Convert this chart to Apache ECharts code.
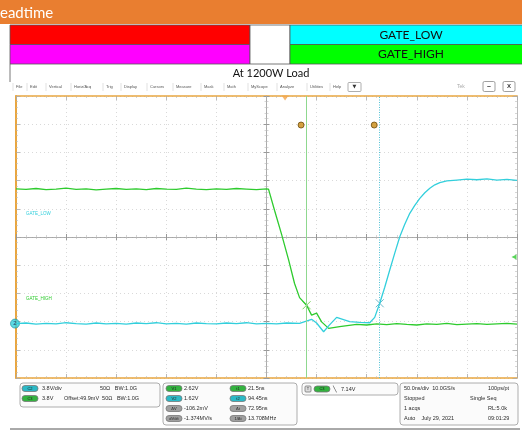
<!DOCTYPE html>
<html>
<head>
<meta charset="utf-8">
<style>
html, body { margin: 0; padding: 0; background: #fff; }
#scope { width: 522px; height: 430px; }
</style>
<script src="https://cdn.jsdelivr.net/npm/echarts@6/dist/echarts.min.js"></script>
</head>
<body>
<div id="scope"></div>
<script>
// time in ns from screen centre, amplitude in divisions
var gateHigh = [
    [-250, 1.71], [-240, 1.69], [-230, 1.72], [-220, 1.68], [-210, 1.70], [-200, 1.73],
    [-190, 1.69], [-180, 1.71], [-170, 1.67], [-160, 1.70], [-150, 1.72], [-140, 1.69],
    [-130, 1.71], [-120, 1.68], [-110, 1.72], [-100, 1.70], [-90, 1.69], [-80, 1.73],
    [-70, 1.70], [-60, 1.68], [-50, 1.71], [-40, 1.69], [-30, 1.72], [-20, 1.70],
    [-10, 1.68], [0, 1.71], [2, 1.70], [8, 0.95], [15, 0.10], [22, -0.80], [28, -1.65],
    [33, -2.15], [40, -2.42], [45, -2.77], [50, -2.70], [55, -3.01], [62, -3.24],
    [73, -3.18], [90, -3.10], [100, -3.12], [110, -3.08], [120, -3.11], [130, -3.07],
    [140, -3.10], [150, -3.12], [160, -3.08], [170, -3.10], [180, -3.06], [190, -3.11],
    [200, -3.09], [210, -3.07], [220, -3.10], [230, -3.08], [240, -3.06], [250, -3.09]
];
var gateLow = [
    [-250, -3.07], [-240, -3.05], [-230, -3.09], [-220, -3.06], [-210, -3.08], [-200, -3.04],
    [-190, -3.07], [-180, -3.09], [-170, -3.05], [-160, -3.08], [-150, -3.06], [-140, -3.09],
    [-130, -3.05], [-120, -3.07], [-110, -3.04], [-100, -3.08], [-90, -3.06], [-80, -3.09],
    [-70, -3.05], [-60, -3.07], [-50, -3.08], [-40, -3.05], [-30, -3.07], [-20, -3.04],
    [-10, -3.08], [0, -3.06], [10, -3.08], [20, -3.05], [33, -3.06], [45, -2.92],
    [50, -3.05], [57, -3.36], [62, -3.15], [70, -2.85], [83, -3.00], [93, -3.03],
    [103, -3.04], [108, -2.85], [113, -2.35], [118, -1.78], [123, -1.17], [128, -0.57],
    [133, 0.01], [138, 0.45], [143, 0.84], [148, 1.12], [153, 1.37], [158, 1.57],
    [163, 1.73], [168, 1.85], [173, 1.93], [180, 1.99], [190, 2.02], [200, 2.05],
    [210, 2.03], [220, 2.06], [230, 2.02], [240, 2.04], [250, 2.01]
];
var cursorTimes = [40, 113];
var cursorCrossings = [[40, -2.42], [113, -2.35]];
var cursorHandles = [[34.5, 3.97], [107.5, 3.97]];
var triggerPos = [18.5, 4.93];
var triggerLevel = [247, -0.71];
var ch2Marker = [-251, -3.07];

var menuItems = ['File', 'Edit', 'Vertical', 'Horiz/Acq', 'Trig', 'Display', 'Cursors', 'Measure',
    'Mask', 'Math', 'MyScope', 'Analyze', 'Utilities', 'Help'];
var menuX = [16, 30, 49, 74, 106, 124, 150, 176, 204, 227, 251, 280, 310, 333];

var vLabels = ['V1', 'V2', 'ΔV', 'dV/dt'];
var vValues = ['2.62V', '1.62V', '-106.2mV', '-1.374MV/s'];
var tLabels = ['t1', 't2', 'Δt', '1/Δt'];
var tValues = ['21.5ns', '94.45ns', '72.95ns', '13.708MHz'];
var acqLeft = ['50.0ns/div  10.0GS/s', 'Stopped', '1 acqs', 'Auto    July 29, 2021'];
var acqRight = ['100ps/pt', 'Single Seq', 'RL:5.0k', '09:01:29'];

var GREEN = '#2ecb2e';
var CYAN = '#33cfdc';
var ORANGE = '#e9a640';

var chart = echarts.init(document.getElementById('scope'));

function txt(x, y, s, opt) {
    opt = opt || {};
    return {
        type: 'text', x: x, y: y, silent: true,
        style: {
            text: s,
            fill: opt.fill || '#2a2a2a',
            font: opt.font || '5.5px "Liberation Sans"',
            align: opt.align || 'left', textAlign: opt.align || 'left',
            verticalAlign: 'middle', textVerticalAlign: 'middle'
        }
    };
}
function box(x, y, w, h, fill, stroke, r) {
    return {
        type: 'rect', silent: true,
        shape: { x: x, y: y, width: w, height: h, r: r || 0 },
        style: { fill: fill, stroke: stroke || null, lineWidth: stroke ? 0.8 : 0 }
    };
}
function pill(x, y, label, fill) {
    return [
        box(x, y - 3, 16, 6, fill, '#777', 3),
        txt(x + 8, y, label, { align: 'center', font: '4px "Liberation Sans"', fill: '#222' })
    ];
}

var g = [];
// slide header
g.push(box(0, 0, 522, 24, '#e97e30'));
g.push(txt(0, 13, 'eadtime', { fill: '#fff', font: '15px Lato' }));
g.push(box(10, 25, 240, 19.5, '#ff0000', '#555'));
g.push(box(10, 44.5, 240, 19.5, '#ff00ff', '#555'));
g.push(box(250, 25, 40, 39, '#ffffff', '#555'));
g.push(box(290, 25, 240, 19.5, '#00ffff', '#555'));
g.push(box(290, 44.5, 240, 19.5, '#00ff00', '#555'));
g.push(txt(411, 35, 'GATE_LOW', { align: 'center', fill: '#111', font: '12px Lato' }));
g.push(txt(411, 54.5, 'GATE_HIGH', { align: 'center', fill: '#111', font: '12px Lato' }));
g.push({ type: 'line', silent: true, shape: { x1: 10, y1: 64, x2: 10, y2: 82 }, style: { stroke: '#555', lineWidth: 0.8 } });
g.push(txt(271, 73, 'At 1200W Load', { align: 'center', fill: '#111', font: '11px Lato' }));

// scope menu bar
menuItems.forEach(function (m, i) {
    g.push(txt(menuX[i], 87, m, { font: '4px "Liberation Sans"', fill: '#555' }));
    g.push({ type: 'line', silent: true, shape: { x1: menuX[i] - 3, y1: 83, x2: menuX[i] - 3, y2: 91 }, style: { stroke: '#ccc', lineWidth: 0.6 } });
});
g.push(box(348, 82.5, 13, 9, '#fff', '#999', 1));
g.push(txt(354.5, 87, '▼', { align: 'center', font: '5px "DejaVu Sans"', fill: '#333' }));
g.push(txt(457, 87, 'Tek', { font: '5px "Liberation Sans"', fill: '#aaa' }));
g.push(box(483, 81.5, 12, 10, '#fff', '#888', 1.5));
g.push(txt(489, 86.5, '–', { align: 'center', font: 'bold 7px "Liberation Sans"', fill: '#333' }));
g.push(box(503, 81.5, 12, 10, '#fff', '#888', 1.5));
g.push(txt(509, 86.5, 'X', { align: 'center', font: 'bold 6px "Liberation Sans"', fill: '#333' }));

// channel labels on screen
g.push(txt(26, 214, 'GATE_LOW', { fill: CYAN, font: '4.5px "Liberation Sans"' }));
g.push(txt(26, 299, 'GATE_HIGH', { fill: GREEN, font: '4.5px "Liberation Sans"' }));

// readout panel
g.push(box(20, 383, 140, 24, '#fbfbfb', '#999', 3));
g = g.concat(pill(22, 388.5, 'C2', '#2bb9c6'));
g = g.concat(pill(22, 398.5, 'C3', '#33b33f'));
g.push(txt(42, 388.5, '3.8V/div'));
g.push(txt(100, 388.5, '50Ω   BW:1.0G'));
g.push(txt(42, 398.5, '3.8V'));
g.push(txt(64, 398.5, 'Offset:49.9mV  50Ω   BW:1.0G'));

g.push(box(163, 383, 134, 42, '#fbfbfb', '#999', 3));
var pillCols = ['#33b33f', '#2bb9c6', '#a0a0a0', '#a0a0a0'];
for (var i = 0; i < 4; i++) {
    var ry = 388.5 + i * 10;
    g = g.concat(pill(166, ry, vLabels[i], pillCols[i]));
    g.push(txt(184, ry, vValues[i]));
    g = g.concat(pill(230, ry, tLabels[i], pillCols[i]));
    g.push(txt(248, ry, tValues[i]));
}

g.push(box(302, 383, 96, 12, '#fbfbfb', '#999', 3));
g.push(box(305, 386, 6, 6, '#ddd', '#777', 1));
g.push(txt(308, 389, 'T', { align: 'center', font: '4px "Liberation Sans"' }));
g = g.concat(pill(314, 389, 'C3', '#33b33f'));
g.push(txt(333, 389, '╲', { font: '6px "DejaVu Sans"', fill: '#333' }));
g.push(txt(341, 389, '7.14V'));

g.push(box(400, 383, 118, 42, '#fbfbfb', '#999', 3));
for (var j = 0; j < 4; j++) {
    g.push(txt(404, 388.5 + j * 10, acqLeft[j]));
    g.push(txt(j === 1 ? 470 : 488, 388.5 + j * 10, acqRight[j]));
}
g.push({ type: 'line', silent: true, shape: { x1: 10, y1: 429, x2: 520, y2: 429 }, style: { stroke: '#555', lineWidth: 1 } });

var tickStyle = { show: true, inside: true, length: 4, lineStyle: { color: '#aaa', width: 0.8 } };
var minorStyle = { show: true, splitNumber: 5, length: 2, lineStyle: { color: '#bbb', width: 0.6 } };
var gridDots = { show: true, lineStyle: { color: '#cfcfcf', type: [1, 3], width: 0.8 } };

function xAx(extra) {
    return Object.assign({
        type: 'value', min: -250, max: 250, interval: 50,
        axisLabel: { show: false }, splitLine: { show: false }
    }, extra);
}
function yAx(extra) {
    return Object.assign({
        type: 'value', min: -5, max: 5, interval: 1,
        axisLabel: { show: false }, splitLine: { show: false }
    }, extra);
}

chart.setOption({
    animation: false,
    backgroundColor: '#ffffff',
    grid: { left: 16, top: 96, right: 5, bottom: 52, containLabel: false },
    xAxis: [
        xAx({ position: 'bottom', axisLine: { onZero: false, lineStyle: { color: ORANGE, width: 1.5 } },
            axisTick: tickStyle, minorTick: minorStyle, splitLine: gridDots }),
        xAx({ position: 'top', axisLine: { onZero: false, lineStyle: { color: ORANGE, width: 1.5 } },
            axisTick: tickStyle, minorTick: minorStyle }),
        xAx({ position: 'bottom', axisLine: { onZero: true, onZeroAxisIndex: 0, lineStyle: { color: '#999', width: 0.8 } },
            axisTick: { show: true, inside: true, length: 3, lineStyle: { color: '#999' } }, minorTick: minorStyle }),
        xAx({ position: 'bottom', axisLine: { show: false, onZero: true, onZeroAxisIndex: 0 },
            axisTick: { show: true, inside: false, length: 3, lineStyle: { color: '#999' } }, minorTick: minorStyle })
    ],
    yAxis: [
        yAx({ position: 'left', axisLine: { onZero: false, lineStyle: { color: ORANGE, width: 2 } },
            axisTick: tickStyle, minorTick: minorStyle, splitLine: gridDots }),
        yAx({ position: 'right', axisLine: { onZero: false, lineStyle: { color: '#bbb', width: 1 } },
            axisTick: tickStyle, minorTick: minorStyle }),
        yAx({ position: 'left', axisLine: { onZero: true, onZeroAxisIndex: 0, lineStyle: { color: '#999', width: 0.8 } },
            axisTick: { show: true, inside: true, length: 3, lineStyle: { color: '#999' } }, minorTick: minorStyle }),
        yAx({ position: 'left', axisLine: { show: false, onZero: true, onZeroAxisIndex: 0 },
            axisTick: { show: true, inside: false, length: 3, lineStyle: { color: '#999' } }, minorTick: minorStyle })
    ],
    graphic: g,
    series: [
        {
            name: 'GATE_HIGH', type: 'line', data: gateHigh, showSymbol: false,
            lineStyle: { color: GREEN, width: 1.3 }, itemStyle: { color: GREEN },
            markLine: {
                silent: true, symbol: ['none', 'none'], label: { show: false },
                data: [
                    { xAxis: cursorTimes[0], lineStyle: { color: '#8fd88f', type: 'solid', width: 1 } },
                    { xAxis: cursorTimes[1], lineStyle: { color: '#52c3d6', type: [1, 1.5], width: 1 } }
                ]
            }
        },
        {
            name: 'GATE_LOW', type: 'line', data: gateLow, showSymbol: false,
            lineStyle: { color: CYAN, width: 1.3 }, itemStyle: { color: CYAN }
        },
        {
            type: 'scatter', symbol: 'path://M0 0L10 10M10 0L0 10', symbolSize: 8, silent: true,
            data: [
                { value: cursorCrossings[0], itemStyle: { color: 'none', borderColor: '#5ccc3a', borderWidth: 1 } },
                { value: cursorCrossings[1], itemStyle: { color: 'none', borderColor: '#4aa7be', borderWidth: 1 } }
            ]
        },
        {
            type: 'scatter', symbol: 'circle', symbolSize: 6, silent: true, data: cursorHandles,
            itemStyle: { color: '#c98a12', borderColor: '#6b4a0a', borderWidth: 1 }
        },
        {
            type: 'scatter', symbol: 'triangle', symbolRotate: 180, symbolSize: [7, 5], silent: true,
            clip: false, data: [triggerPos], itemStyle: { color: '#f2a54a' }
        },
        {
            type: 'scatter', symbol: 'triangle', symbolRotate: 90, symbolSize: [5, 5], silent: true,
            clip: false, data: [triggerLevel], itemStyle: { color: GREEN }
        },
        {
            type: 'scatter', symbol: 'circle', symbolSize: 9, silent: true, clip: false,
            data: [ch2Marker], itemStyle: { color: CYAN, borderColor: '#1a8a96', borderWidth: 0.8 },
            label: { show: true, formatter: '2', color: '#114', fontSize: 6, position: 'inside' }
        }
    ]
});
</script>
</body>
</html>
